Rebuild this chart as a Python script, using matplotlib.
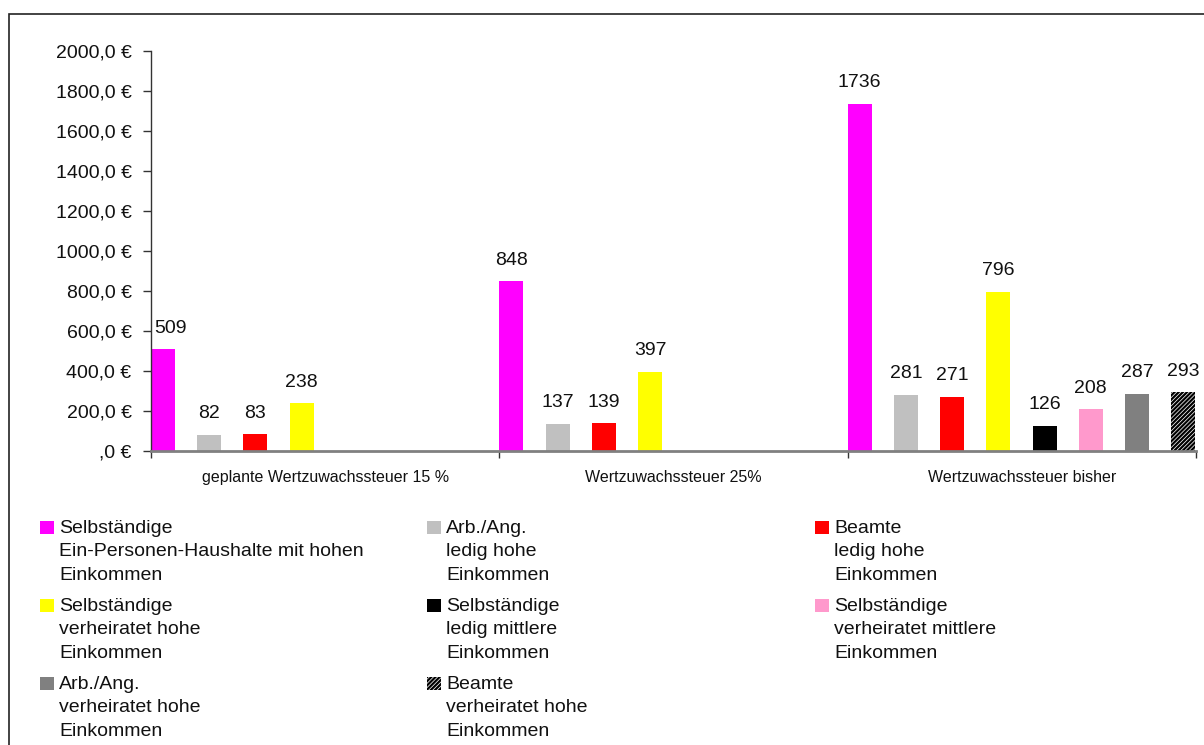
import numpy as np
import matplotlib
matplotlib.use("Agg")
import matplotlib.pyplot as plt
from matplotlib.patches import Rectangle
from matplotlib.ticker import FuncFormatter, MultipleLocator

plt.rcParams['font.family'] = ['Liberation Sans', 'DejaVu Sans']
plt.rcParams['hatch.linewidth'] = 1.6

categories = ["geplante Wertzuwachssteuer 15 %", "Wertzuwachssteuer 25%", "Wertzuwachssteuer bisher"]
series_names = [
    "Selbständige\nEin-Personen-Haushalte mit hohen\nEinkommen",
    "Arb./Ang.\nledig hohe\nEinkommen",
    "Beamte\nledig hohe\nEinkommen",
    "Selbständige\nverheiratet hohe\nEinkommen",
    "Selbständige\nledig mittlere\nEinkommen",
    "Selbständige\nverheiratet mittlere\nEinkommen",
    "Arb./Ang.\nverheiratet hohe\nEinkommen",
    "Beamte\nverheiratet hohe\nEinkommen",
]
nan = np.nan
selb_ein_pers_hoch = [509, 848, 1736]
arb_ledig_hoch = [82, 137, 281]
beamte_ledig_hoch = [83, 139, 271]
selb_verh_hoch = [238, 397, 796]
selb_ledig_mittel = [nan, nan, 126]
selb_verh_mittel = [nan, nan, 208]
arb_verh_hoch = [nan, nan, 287]
beamte_verh_hoch = [nan, nan, 293]
series_values = [selb_ein_pers_hoch, arb_ledig_hoch, beamte_ledig_hoch, selb_verh_hoch,
                 selb_ledig_mittel, selb_verh_mittel, arb_verh_hoch, beamte_verh_hoch]
colors = ["#FF00FF", "#C0C0C0", "#FF0000", "#FFFF00", "#000000", "#FF99CC", "#808080", "#FFFFFF"]
hatches = [None] * 7 + ["////////"]

W, H = 1204, 745
fig = plt.figure(figsize=(W / 100, H / 100), dpi=100)

def fx(px):
    return px / W

def fy(py):
    return 1 - py / H

# outer frame
fig.patches.append(Rectangle((fx(9), fy(800)), fx(1300) - fx(9), fy(14) - fy(800),
                             transform=fig.transFigure, fill=False, edgecolor="#222222",
                             linewidth=1.2, zorder=0))

ax = fig.add_axes([fx(151), fy(451), fx(1196) - fx(151), fy(51) - fy(451)])

step = 0.1327
bw = 0.0688
x = np.arange(len(categories))
all_labels = []
for j, vals in enumerate(series_values):
    pos = x + bw / 2 + j * step
    kw = dict(color=colors[j], linewidth=0, zorder=2)
    if hatches[j]:
        kw = dict(facecolor="white", edgecolor="black", hatch=hatches[j], linewidth=0, zorder=2)
    bars = ax.bar(pos, np.nan_to_num(vals, nan=0.0), width=bw, **kw)
    labels = ["" if np.isnan(v) else f"{v:.0f}" for v in np.array(vals, dtype=float)]
    all_labels += ax.bar_label(bars, labels=labels, padding=9, fontsize=14, color="#111111")

ax.set_xlim(0, 3)
ax.set_ylim(0, 2000)
ax.yaxis.set_major_locator(MultipleLocator(200))

def yfmt(v, pos):
    s = f"{v:.1f}".replace('.', ',')
    if s.startswith('0,'):
        s = s[1:]
    return s + " €"

ax.yaxis.set_major_formatter(FuncFormatter(yfmt))
ax.tick_params(axis='y', direction='out', length=6, width=1, color="#333333", pad=8,
               labelsize=14, labelcolor="#111111")

ax.set_xticks([0, 1, 2, 3])
ax.set_xticklabels([])
ax.tick_params(axis='x', which='major', direction='out', length=5, width=1, color="#333333")
ax.set_xticks(x + 0.5, minor=True)
ax.set_xticklabels(categories, minor=True)
ax.tick_params(axis='x', which='minor', length=0, pad=14, labelsize=11.5, labelcolor="#111111")

for s in ['top', 'right']:
    ax.spines[s].set_visible(False)
ax.spines['left'].set_color("#333333")
ax.spines['left'].set_linewidth(1)
ax.spines['bottom'].set_color("#808080")
ax.spines['bottom'].set_linewidth(2)
ax.spines['bottom'].set_zorder(3)

# keep data labels inside the plot area (as the spreadsheet does)
fig.canvas.draw()
renderer = fig.canvas.get_renderer()
ax_bb = ax.get_window_extent(renderer)
for t in all_labels:
    if not t.get_text():
        continue
    bb = t.get_window_extent(renderer)
    dx = 0.0
    if bb.x0 < ax_bb.x0 + 3:
        dx = (ax_bb.x0 + 3 - bb.x0)
    elif bb.x1 > ax_bb.x1 + 4:
        dx = (ax_bb.x1 + 4 - bb.x1)
    if dx:
        ox, oy = t.xyann
        t.xyann = (ox + dx * 72 / fig.dpi, oy)

# legend (row-major, 3 columns)
col_x = [40, 427, 815]
row_y = [520, 598, 676]
for i, name in enumerate(series_names):
    r, c = divmod(i, 3)
    px, py = col_x[c], row_y[r]
    if hatches[i]:
        rect = Rectangle((fx(px), fy(py + 14)), fx(14), 13 / H, transform=fig.transFigure,
                         facecolor="white", edgecolor="black", hatch=hatches[i], linewidth=0)
    else:
        rect = Rectangle((fx(px), fy(py + 14)), fx(14), 13 / H, transform=fig.transFigure,
                         facecolor=colors[i], linewidth=0)
    fig.patches.append(rect)
    fig.text(fx(px + 19), fy(py), name, ha='left', va='top', fontsize=14,
             linespacing=1.5, color="#111111")

fig.savefig("out.png", dpi=100)
